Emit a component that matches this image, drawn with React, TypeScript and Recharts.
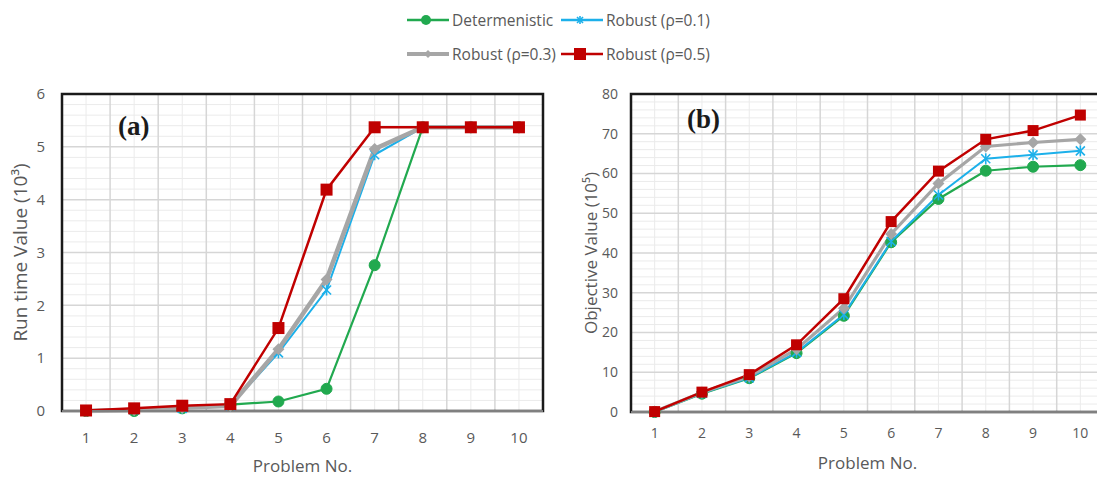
import React from 'react';
import {
  LineChart,
  Line,
  XAxis,
  YAxis,
  CartesianGrid,
  ReferenceArea,
} from 'recharts';

// Problem numbers on the x axis
const problems = [1, 2, 3, 4, 5, 6, 7, 8, 9, 10];

// (a) Run time value (10^3)
const runDet = [0, 0, 0.05, 0.12, 0.18, 0.42, 2.76, 5.37, 5.37, 5.37];
const runR1 = [0, 0.02, 0.05, 0.1, 1.1, 2.29, 4.85, 5.37, 5.37, 5.37];
const runR3 = [0, 0.02, 0.06, 0.1, 1.17, 2.49, 4.96, 5.37, 5.37, 5.37];
const runR5 = [0.01, 0.05, 0.1, 0.13, 1.57, 4.19, 5.37, 5.37, 5.37, 5.37];
const runTicks = [0, 1, 2, 3, 4, 5, 6];

// (b) Objective value (10^5)
const objDet = [0, 4.6, 8.5, 14.8, 24.2, 42.7, 53.6, 60.7, 61.7, 62.1];
const objR1 = [0, 4.7, 8.6, 15, 24.5, 42.9, 54.6, 63.7, 64.7, 65.7];
const objR3 = [0.1, 4.9, 9, 15.8, 26.1, 44.8, 57.5, 66.8, 67.8, 68.6];
const objR5 = [0.1, 5, 9.4, 16.9, 28.5, 47.9, 60.6, 68.6, 70.8, 74.7];
const objTicks = [0, 10, 20, 30, 40, 50, 60, 70, 80];

const seriesNames = ['Determenistic', 'Robust (ρ=0.1)', 'Robust (ρ=0.3)', 'Robust (ρ=0.5)'];

const GREEN = '#21a94f';
const BLUE = '#1cb0ea';
const GRAY = '#a6a6a6';
const RED = '#c00000';
const TEXT = '#595959';
const FONT = '"Open Sans", "Noto Sans", sans-serif';

const runData = problems.map((x, i) => ({ x, det: runDet[i], r1: runR1[i], r3: runR3[i], r5: runR5[i] }));
const objData = problems.map((x, i) => ({ x, det: objDet[i], r1: objR1[i], r3: objR3[i], r5: objR5[i] }));

// grid helpers: minor lines at every category centre, major at the boundaries
const xMajor = problems.slice(0, -1).map((p) => p + 0.5);
const minorSteps = (ticks: number[], parts: number) => {
  const out: number[] = [];
  for (let i = 0; i < ticks.length - 1; i++) {
    const step = (ticks[i + 1] - ticks[i]) / parts;
    for (let k = 1; k < parts; k++) out.push(ticks[i] + k * step);
  }
  return out;
};

// marker shapes
const circleDot = (r: number, color: string) => (p: any) => (
  <circle key={`c${p.index}`} cx={p.cx} cy={p.cy} r={r} fill={color} stroke={color} />
);
const squareDot = (s: number, color: string) => (p: any) => (
  <rect key={`s${p.index}`} x={p.cx - s / 2} y={p.cy - s / 2} width={s} height={s} fill={color} />
);
const diamondDot = (s: number, color: string) => (p: any) => (
  <path
    key={`d${p.index}`}
    d={`M${p.cx},${p.cy - s}L${p.cx + s},${p.cy}L${p.cx},${p.cy + s}L${p.cx - s},${p.cy}Z`}
    fill={color}
  />
);
const starDot = (r: number, color: string) => (p: any) => (
  <g key={`x${p.index}`} stroke={color} strokeWidth={1.6}>
    <line x1={p.cx - r} y1={p.cy - r} x2={p.cx + r} y2={p.cy + r} />
    <line x1={p.cx - r} y1={p.cy + r} x2={p.cx + r} y2={p.cy - r} />
    <line x1={p.cx} y1={p.cy - r - 1} x2={p.cx} y2={p.cy + r + 1} />
  </g>
);

const xTitle = (dy: number) => (props: any) => {
  const vb = props.viewBox;
  return (
    <text x={vb.x + vb.width / 2} y={vb.y + dy} textAnchor="middle" fill={TEXT} fontSize={17} fontFamily={FONT}>
      Problem No.
    </text>
  );
};

const yTitle = (text: string, dx: number, size: number) => (props: any) => {
  const vb = props.viewBox;
  const cx = vb.x + dx;
  const cy = vb.y + vb.height / 2;
  return (
    <text
      x={cx}
      y={cy}
      transform={`rotate(-90 ${cx} ${cy})`}
      textAnchor="middle"
      dominantBaseline="central"
      fill={TEXT}
      fontSize={size}
      fontFamily={FONT}
    >
      {text}
    </text>
  );
};

interface PanelProps {
  data: any[];
  yTicks: number[];
  yMinorParts: number;
  yLabel: string;
  left: number;
  margin: { top: number; right: number; left: number; bottom: number };
  xAxisHeight: number;
  xTickMargin: number;
  yTickMargin: number;
  tickSize: number;
  titleDy: number;
  yTitleDx: number;
  yTitleSize: number;
  grayWidth: number;
  big: boolean;
}

function Panel(p: PanelProps) {
  const yMax = p.yTicks[p.yTicks.length - 1];
  const sq = p.big ? 12 : 11;
  return (
    <div style={{ position: 'absolute', left: p.left, top: 0 }}>
      <LineChart width={560} height={477} data={p.data} margin={p.margin}>
        <CartesianGrid
          horizontalValues={minorSteps(p.yTicks, p.yMinorParts)}
          verticalValues={problems}
          stroke="#ebebeb"
          strokeWidth={1}
        />
        <CartesianGrid horizontalValues={p.yTicks} verticalValues={xMajor} stroke="#d6d6d6" strokeWidth={1.5} />
        <XAxis
          type="number"
          dataKey="x"
          domain={[0.5, 10.5]}
          ticks={problems}
          interval={0}
          tickLine={false}
          tickSize={0}
          tickMargin={p.xTickMargin}
          height={p.xAxisHeight}
          axisLine={{ stroke: '#808080', strokeWidth: 2 }}
          tick={{ fill: TEXT, fontSize: p.tickSize, fontFamily: FONT }}
          label={{ content: xTitle(p.titleDy) }}
        />
        <YAxis
          type="number"
          domain={[0, yMax]}
          ticks={p.yTicks}
          interval={0}
          width={50}
          tickLine={false}
          axisLine={false}
          tickSize={0}
          tickMargin={p.yTickMargin}
          tick={{ fill: TEXT, fontSize: p.tickSize, fontFamily: FONT }}
          label={{ content: yTitle(p.yLabel, p.yTitleDx, p.yTitleSize) }}
        />
        <ReferenceArea
          x1={0.5}
          x2={10.5}
          y1={0}
          y2={yMax}
          fill="none"
          fillOpacity={0}
          stroke="#1a1a1a"
          strokeWidth={2.5}
          ifOverflow="visible"
        />
        <Line
          type="linear"
          dataKey="det"
          name={seriesNames[0]}
          stroke={GREEN}
          strokeWidth={2.2}
          dot={circleDot(5.5, GREEN)}
          isAnimationActive={false}
        />
        <Line
          type="linear"
          dataKey="r1"
          name={seriesNames[1]}
          stroke={BLUE}
          strokeWidth={2}
          dot={starDot(4.5, BLUE)}
          isAnimationActive={false}
        />
        <Line
          type="linear"
          dataKey="r3"
          name={seriesNames[2]}
          stroke={GRAY}
          strokeWidth={p.grayWidth}
          dot={diamondDot(6, GRAY)}
          isAnimationActive={false}
        />
        <Line
          type="linear"
          dataKey="r5"
          name={seriesNames[3]}
          stroke={RED}
          strokeWidth={2.5}
          dot={squareDot(sq, RED)}
          isAnimationActive={false}
        />
      </LineChart>
    </div>
  );
}

// legend entry: short line with the series marker, then the name
function LegendItem({ x, y, color, marker, label, lineWidth }: any) {
  return (
    <div style={{ position: 'absolute', left: x, top: y - 12, height: 24, display: 'flex', alignItems: 'center' }}>
      <svg width={44} height={24}>
        <line x1={1} y1={12} x2={43} y2={12} stroke={color} strokeWidth={lineWidth} />
        {marker === 'circle' && <circle cx={20} cy={12} r={5} fill={color} />}
        {marker === 'star' && (
          <g stroke={color} strokeWidth={1.6}>
            <line x1={17} y1={9} x2={23} y2={15} />
            <line x1={17} y1={15} x2={23} y2={9} />
            <line x1={20} y1={8} x2={20} y2={16} />
          </g>
        )}
        {marker === 'diamond' && <path d="M22,8L26,12L22,16L18,12Z" fill={color} />}
        {marker === 'square' && <rect x={14} y={6} width={12} height={12} fill={color} />}
      </svg>
      <span style={{ marginLeft: 2, color: TEXT, fontSize: 15.5, fontFamily: FONT, whiteSpace: 'nowrap' }}>
        {label}
      </span>
    </div>
  );
}

export default function App() {
  return (
    <div
      style={{
        position: 'absolute',
        left: 0,
        top: 0,
        width: 1097,
        height: 477,
        overflow: 'hidden',
        background: '#ffffff',
      }}
    >
      <Panel
        data={runData}
        yTicks={runTicks}
        yMinorParts={5}
        yLabel="Run time Value (10³)"
        left={0}
        margin={{ top: 94, right: 17, left: 12, bottom: 0 }}
        xAxisHeight={66}
        xTickMargin={21}
        yTickMargin={17}
        tickSize={15}
        titleDy={61}
        yTitleDx={8}
        yTitleSize={19}
        grayWidth={4.5}
        big
      />
      <Panel
        data={objData}
        yTicks={objTicks}
        yMinorParts={5}
        yLabel="Objective Value (10⁵)"
        left={560}
        margin={{ top: 94, right: 16, left: 21, bottom: 0 }}
        xAxisHeight={65}
        xTickMargin={16}
        yTickMargin={13}
        tickSize={14}
        titleDy={57}
        yTitleDx={9}
        yTitleSize={17}
        grayWidth={3.2}
        big={false}
      />
      <div
        style={{
          position: 'absolute',
          left: 118,
          top: 113,
          fontFamily: '"Liberation Serif", "Times New Roman", serif',
          fontWeight: 'bold',
          fontSize: 27,
          lineHeight: 1,
          color: '#1a1a1a',
        }}
      >
        (a)
      </div>
      <div
        style={{
          position: 'absolute',
          left: 687,
          top: 106,
          fontFamily: '"Liberation Serif", "Times New Roman", serif',
          fontWeight: 'bold',
          fontSize: 27,
          lineHeight: 1,
          color: '#1a1a1a',
        }}
      >
        (b)
      </div>
      <LegendItem x={406} y={20} color={GREEN} marker="circle" label={seriesNames[0]} lineWidth={2.5} />
      <LegendItem x={560} y={20} color={BLUE} marker="star" label={seriesNames[1]} lineWidth={2.5} />
      <LegendItem x={406} y={54} color={GRAY} marker="diamond" label={seriesNames[2]} lineWidth={4} />
      <LegendItem x={560} y={54} color={RED} marker="square" label={seriesNames[3]} lineWidth={2.5} />
    </div>
  );
}
